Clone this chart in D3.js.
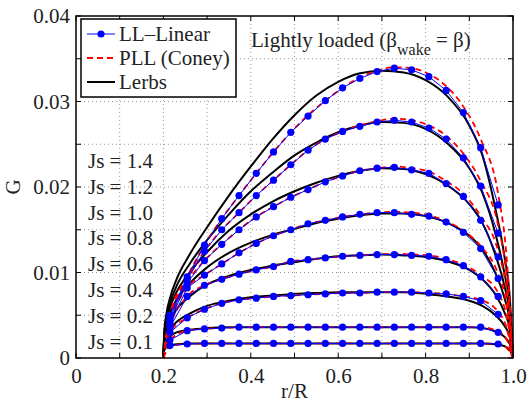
<!DOCTYPE html>
<html>
<head>
<meta charset="utf-8">
<script src="https://cdn.jsdelivr.net/npm/d3@7"></script>
<style>
  body { margin: 0; background: #fff; }
  svg text { font-family: "Times New Roman", "Liberation Serif", "DejaVu Serif", serif; fill: #222; }
  .grid line { stroke: #999; stroke-dasharray: 1,3; stroke-width: 1; }
</style>
</head>
<body>
<script>
// radial stations of the lifting-line points
const rLL = [0.215, 0.2545, 0.294, 0.3335, 0.373, 0.4125, 0.452, 0.4915, 0.531, 0.5705,
             0.61, 0.6495, 0.689, 0.7285, 0.768, 0.8075, 0.847, 0.8865, 0.926, 0.966];
// stations used for the Lerbs curves
const rLerbs = [0.2, 0.202, 0.207, 0.215, 0.23, 0.26, 0.3, 0.35, 0.4, 0.45, 0.5, 0.55,
                0.6, 0.65, 0.7, 0.75, 0.8, 0.85, 0.9, 0.93, 0.96, 0.98, 0.993, 1.0];
// stations used for the PLL (Coney) curves
const rPLL = [0.2, 0.206, 0.215, 0.2545, 0.294, 0.3335, 0.373, 0.4125, 0.452, 0.4915, 0.531,
              0.5705, 0.61, 0.6495, 0.689, 0.7285, 0.768, 0.8075, 0.847, 0.8865, 0.926, 0.966, 0.985, 1.0];

const jsLabels = ["Js = 1.4", "Js = 1.2", "Js = 1.0", "Js = 0.8", "Js = 0.6", "Js = 0.4", "Js = 0.2", "Js = 0.1"];

// LL-Linear (blue points), one array per Js
const ll14 = [0.0050, 0.0095, 0.0132, 0.0163, 0.0190, 0.0216, 0.0241, 0.0264, 0.0283, 0.0301, 0.0316, 0.0327, 0.0335, 0.0339, 0.0337, 0.0329, 0.0313, 0.0287, 0.0246, 0.0179];
const ll12 = [0.0047, 0.0092, 0.0125, 0.0150, 0.0170, 0.0190, 0.0208, 0.0226, 0.0243, 0.0256, 0.0265, 0.0271, 0.0276, 0.0278, 0.0276, 0.0269, 0.0256, 0.0234, 0.0201, 0.0146];
const ll10 = [0.0044, 0.0088, 0.0114, 0.0133, 0.0150, 0.0165, 0.0177, 0.0188, 0.0197, 0.0206, 0.0213, 0.0219, 0.0222, 0.0223, 0.0220, 0.0216, 0.0204, 0.0189, 0.0161, 0.0118];
const ll08 = [0.0040, 0.0082, 0.0097, 0.0110, 0.0123, 0.0134, 0.0143, 0.0150, 0.0157, 0.0161, 0.0165, 0.0168, 0.0170, 0.0170, 0.0168, 0.0166, 0.0159, 0.0147, 0.0128, 0.0093];
const ll06 = [0.0036, 0.0072, 0.0085, 0.0092, 0.0098, 0.0103, 0.0107, 0.0113, 0.0115, 0.0117, 0.0119, 0.0120, 0.0121, 0.0121, 0.0120, 0.0119, 0.0115, 0.0108, 0.0095, 0.0072];
const ll04 = [0.0030, 0.0047, 0.0057, 0.0064, 0.0068, 0.0070, 0.0072, 0.0073, 0.0074, 0.0075, 0.0076, 0.0076, 0.0077, 0.0077, 0.0077, 0.0076, 0.0075, 0.0072, 0.0067, 0.0051];
const ll02 = [0.0021, 0.0032, 0.0034, 0.0035, 0.0036, 0.0036, 0.0036, 0.0036, 0.0036, 0.0036, 0.0036, 0.0036, 0.0036, 0.0036, 0.0036, 0.0036, 0.0036, 0.0036, 0.0036, 0.0030];
const ll01 = [0.00145, 0.00164, 0.0017, 0.0017, 0.0017, 0.0017, 0.0017, 0.0017, 0.0017, 0.0017, 0.0017, 0.0017, 0.0017, 0.0017, 0.0017, 0.0017, 0.0017, 0.0017, 0.0017, 0.00164];

// Lerbs (black)
const lerbs14 = [0, 0.0030, 0.0052, 0.0070, 0.0092, 0.0121, 0.0153, 0.0190, 0.0224, 0.0256, 0.0284, 0.0307, 0.0323, 0.0333, 0.0336, 0.0334, 0.0325, 0.0306, 0.0272, 0.0237, 0.0174, 0.0120, 0.0068, 0];
const lerbs12 = [0, 0.0028, 0.0048, 0.0064, 0.0084, 0.0110, 0.0138, 0.0168, 0.0195, 0.0217, 0.0237, 0.0252, 0.0264, 0.0272, 0.0276, 0.0275, 0.0268, 0.0251, 0.0222, 0.0193, 0.0145, 0.0100, 0.0057, 0];
const lerbs10 = [0, 0.0026, 0.0044, 0.0059, 0.0077, 0.0100, 0.0124, 0.0149, 0.0168, 0.0183, 0.0195, 0.0205, 0.0213, 0.0219, 0.0222, 0.0221, 0.0215, 0.0202, 0.0180, 0.0158, 0.0120, 0.0085, 0.0049, 0];
const lerbs08 = [0, 0.0024, 0.0040, 0.0053, 0.0068, 0.0087, 0.0106, 0.0123, 0.0135, 0.0144, 0.0151, 0.0158, 0.0163, 0.0167, 0.0169, 0.0169, 0.0166, 0.0158, 0.0143, 0.0127, 0.0099, 0.0071, 0.0041, 0];
const lerbs06 = [0, 0.0021, 0.0034, 0.0045, 0.0057, 0.0072, 0.0086, 0.0096, 0.0103, 0.0108, 0.0112, 0.0116, 0.0119, 0.0120, 0.0121, 0.0120, 0.0118, 0.0113, 0.0103, 0.0092, 0.0074, 0.0054, 0.0033, 0];
const lerbs04 = [0, 0.0017, 0.0027, 0.0034, 0.0042, 0.0052, 0.0061, 0.0067, 0.0071, 0.0073, 0.0075, 0.0076, 0.0077, 0.0077, 0.0077, 0.0077, 0.0075, 0.0072, 0.0067, 0.0061, 0.0050, 0.0038, 0.0024, 0];
const lerbs02 = [0, 0.0012, 0.0019, 0.0025, 0.0030, 0.0033, 0.0035, 0.0036, 0.0036, 0.0036, 0.0036, 0.0036, 0.0036, 0.0036, 0.0036, 0.0036, 0.0036, 0.0036, 0.0036, 0.0035, 0.0031, 0.0025, 0.0016, 0];
const lerbs01 = [0, 0.0009, 0.0013, 0.0015, 0.0016, 0.0017, 0.0017, 0.0017, 0.0017, 0.0017, 0.0017, 0.0017, 0.0017, 0.0017, 0.0017, 0.0017, 0.0017, 0.0017, 0.0017, 0.0017, 0.0016, 0.0014, 0.0009, 0];

// PLL Coney (red dashed)
const pll14 = [0, 0.0025, 0.0050, 0.0095, 0.0132, 0.0163, 0.0190, 0.0216, 0.0241, 0.0264, 0.0284, 0.0301, 0.0316, 0.0328, 0.0336, 0.0340, 0.0339, 0.0332, 0.0318, 0.0294, 0.0256, 0.0192, 0.0120, 0];
const pll12 = [0, 0.0023, 0.0047, 0.0092, 0.0125, 0.0150, 0.0170, 0.0190, 0.0208, 0.0226, 0.0243, 0.0256, 0.0265, 0.0272, 0.0277, 0.0280, 0.0278, 0.0272, 0.0260, 0.0239, 0.0207, 0.0155, 0.0098, 0];
const pll10 = [0, 0.0022, 0.0044, 0.0088, 0.0114, 0.0133, 0.0150, 0.0165, 0.0177, 0.0188, 0.0197, 0.0206, 0.0213, 0.0219, 0.0222, 0.0224, 0.0222, 0.0218, 0.0207, 0.0192, 0.0166, 0.0125, 0.0080, 0];
const pll08 = [0, 0.0020, 0.0040, 0.0082, 0.0097, 0.0110, 0.0123, 0.0134, 0.0143, 0.0150, 0.0157, 0.0161, 0.0165, 0.0168, 0.0170, 0.0171, 0.0170, 0.0167, 0.0160, 0.0149, 0.0131, 0.0098, 0.0064, 0];
const pll06 = [0, 0.0018, 0.0036, 0.0072, 0.0085, 0.0092, 0.0098, 0.0103, 0.0107, 0.0113, 0.0115, 0.0117, 0.0119, 0.0120, 0.0121, 0.0122, 0.0121, 0.0120, 0.0116, 0.0109, 0.0097, 0.0076, 0.0050, 0];
const pll04 = [0, 0.0015, 0.0030, 0.0047, 0.0057, 0.0064, 0.0068, 0.0070, 0.0072, 0.0073, 0.0074, 0.0075, 0.0076, 0.0076, 0.0077, 0.0077, 0.0077, 0.0076, 0.0075, 0.0072, 0.0068, 0.0054, 0.0036, 0];
const pll02 = [0, 0.0010, 0.0021, 0.0032, 0.0034, 0.0035, 0.0036, 0.0036, 0.0036, 0.0036, 0.0036, 0.0036, 0.0036, 0.0036, 0.0036, 0.0036, 0.0036, 0.0036, 0.0036, 0.0036, 0.0036, 0.0031, 0.0022, 0];
const pll01 = [0, 0.0007, 0.00145, 0.00164, 0.0017, 0.0017, 0.0017, 0.0017, 0.0017, 0.0017, 0.0017, 0.0017, 0.0017, 0.0017, 0.0017, 0.0017, 0.0017, 0.0017, 0.0017, 0.0017, 0.0017, 0.00164, 0.0012, 0];

const xTicks = [0, 0.2, 0.4, 0.6, 0.8, 1.0];
const yTicks = [0, 0.01, 0.02, 0.03, 0.04];

const llSeries = [ll14, ll12, ll10, ll08, ll06, ll04, ll02, ll01];
const lerbsSeries = [lerbs14, lerbs12, lerbs10, lerbs08, lerbs06, lerbs04, lerbs02, lerbs01];
const pllSeries = [pll14, pll12, pll10, pll08, pll06, pll04, pll02, pll01];

const serif = "'Times New Roman', 'Liberation Serif', 'DejaVu Serif', serif";

let margin = null, width = null, height = null, svg = null;
let x, y = null;

setupCanvasSize();
appendSvg("body");
setupScales();
appendGrid();
appendLerbs();
appendPll();
appendLL();
appendAxes();
appendLabels();
appendLegend();

function setupCanvasSize() {
  margin = {top: 16, left: 76, bottom: 44, right: 15};
  width = 528 - margin.left - margin.right;
  height = 402 - margin.top - margin.bottom;
}

function appendSvg(domElement) {
  svg = d3.select(domElement).append("svg")
    .attr("width", 528)
    .attr("height", 402)
    .style("font-family", serif)
    .append("g")
    .attr("transform", `translate(${margin.left}, ${margin.top})`);
}

function setupScales() {
  x = d3.scaleLinear().domain([0, 1]).range([0, width]);
  y = d3.scaleLinear().domain([0, 0.04]).range([height, 0]);
}

function appendGrid() {
  const g = svg.append("g").attr("class", "grid");
  g.selectAll(".gx").data(d3.range(1, 10).map(i => i / 10))
    .enter().append("line")
    .attr("x1", d => x(d)).attr("x2", d => x(d))
    .attr("y1", 0).attr("y2", height);
  g.selectAll(".gy").data(d3.range(1, 8).map(i => i * 0.005))
    .enter().append("line")
    .attr("y1", d => y(d)).attr("y2", d => y(d))
    .attr("x1", 0).attr("x2", width);
}

function appendLerbs() {
  const line = d3.line().x((d, i) => x(rLerbs[i])).y(d => y(d)).curve(d3.curveMonotoneX);
  svg.selectAll(".lerbs").data(lerbsSeries).enter().append("path")
    .attr("fill", "none").attr("stroke", "#000").attr("stroke-width", 2)
    .attr("d", line);
}

function appendPll() {
  const line = d3.line().x((d, i) => x(rPLL[i])).y(d => y(d)).curve(d3.curveMonotoneX);
  svg.selectAll(".pll").data(pllSeries).enter().append("path")
    .attr("fill", "none").attr("stroke", "#ff0000").attr("stroke-width", 1.8)
    .attr("stroke-dasharray", "6,4")
    .attr("d", line);
}

function appendLL() {
  const line = d3.line().x((d, i) => x(rLL[i])).y(d => y(d));
  svg.selectAll(".ll").data(llSeries).enter().append("path")
    .attr("fill", "none").attr("stroke", "#0000ff").attr("stroke-width", 1)
    .attr("d", line);
  llSeries.forEach(s => {
    svg.append("g").selectAll("circle").data(s).enter().append("circle")
      .attr("cx", (d, i) => x(rLL[i]))
      .attr("cy", d => y(d))
      .attr("r", 3.6)
      .attr("fill", "#0000ff");
  });
}

function appendAxes() {
  const minorX = d3.range(0, 11).map(i => i / 10);
  const minorY = d3.range(0, 9).map(i => i * 0.005);
  svg.append("g").attr("transform", `translate(0, ${height})`)
    .call(d3.axisBottom(x).tickValues(xTicks).tickSize(0).tickPadding(10)
      .tickFormat(d => d === 0 ? "0" : d3.format(".1f")(d)))
    .call(g => g.select(".domain").remove())
    .attr("font-family", serif).attr("font-size", 21)
    .selectAll("text").attr("fill", "#222");
  svg.append("g")
    .call(d3.axisLeft(y).tickValues(yTicks).tickSize(0).tickPadding(6)
      .tickFormat(d => d === 0 ? "0" : d3.format(".2f")(d)))
    .call(g => g.select(".domain").remove())
    .attr("font-family", serif).attr("font-size", 21)
    .selectAll("text").attr("fill", "#222");
  // inward minor ticks on all four sides
  const t = svg.append("g").attr("stroke", "#000").attr("stroke-width", 1);
  minorX.forEach(v => {
    t.append("line").attr("x1", x(v)).attr("x2", x(v)).attr("y1", height).attr("y2", height - 5);
    t.append("line").attr("x1", x(v)).attr("x2", x(v)).attr("y1", 0).attr("y2", 5);
  });
  minorY.forEach(v => {
    t.append("line").attr("y1", y(v)).attr("y2", y(v)).attr("x1", 0).attr("x2", 5);
    t.append("line").attr("y1", y(v)).attr("y2", y(v)).attr("x1", width).attr("x2", width - 5);
  });
  svg.append("rect").attr("width", width).attr("height", height)
    .attr("fill", "none").attr("stroke", "#000").attr("stroke-width", 1.5);
}

function appendLabels() {
  svg.append("text").attr("x", width / 2).attr("y", height + 40)
    .attr("text-anchor", "middle").attr("font-size", 21).text("r/R");
  svg.append("text").attr("transform", `translate(${-56}, ${height / 2}) rotate(-90)`)
    .attr("text-anchor", "middle").attr("font-size", 21).text("G");
  svg.selectAll(".js").data(jsLabels).enter().append("text")
    .attr("x", 12).attr("y", (d, i) => 152 + i * 25.8)
    .attr("font-size", 21).text(d => d);
  const title = svg.append("text").attr("x", 175).attr("y", 31).attr("font-size", 21);
  title.append("tspan").text("Lightly loaded (β");
  title.append("tspan").attr("font-size", 16).attr("dy", 8).text("wake");
  title.append("tspan").attr("dy", -8).text(" = β)");
}

function appendLegend() {
  const items = [
    {name: "LL\u2013Linear", color: "#0000ff", dash: null, width: 1, dot: true},
    {name: "PLL (Coney)", color: "#ff0000", dash: "6,4", width: 1.8, dot: false},
    {name: "Lerbs", color: "#000", dash: null, width: 2, dot: false}
  ];
  const lg = svg.append("g").attr("transform", "translate(5, 3)");
  lg.append("rect").attr("width", 155).attr("height", 78)
    .attr("fill", "#fff").attr("stroke", "#000").attr("stroke-width", 1.5);
  items.forEach((it, i) => {
    const yy = 15 + i * 24;
    lg.append("line").attr("x1", 6).attr("x2", 34).attr("y1", yy).attr("y2", yy)
      .attr("stroke", it.color).attr("stroke-width", it.width)
      .attr("stroke-dasharray", it.dash);
    if (it.dot) lg.append("circle").attr("cx", 20).attr("cy", yy).attr("r", 3.6).attr("fill", it.color);
    lg.append("text").attr("x", 38).attr("y", yy + 7).attr("font-size", 21).text(it.name);
  });
}
</script>
</body>
</html>
